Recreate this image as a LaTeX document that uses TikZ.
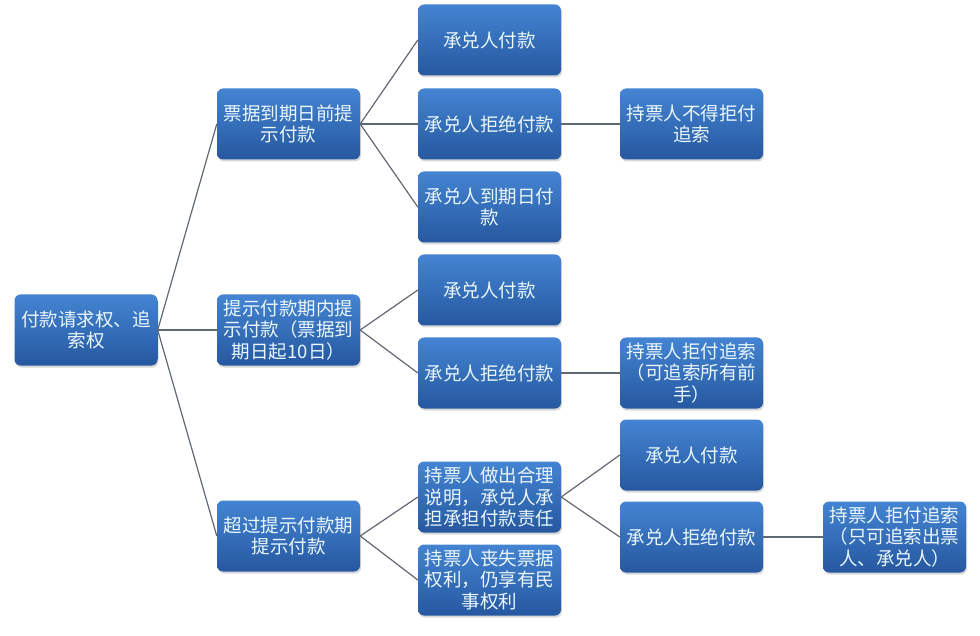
\documentclass[tikz,border=0pt]{standalone}
\usepackage{fontspec}
\setmainfont{Noto Sans CJK SC}
\usepackage{tikz}
\usetikzlibrary{shadows}
\definecolor{boxtop}{RGB}{68,132,210}
\definecolor{boxbot}{RGB}{38,88,160}
\definecolor{linkgray}{RGB}{96,104,116}

\begin{document}
\begin{tikzpicture}[
    x=1pt, y=-1pt,
    box/.style={rounded corners=6pt, align=center, minimum width=143pt, minimum height=71pt,
                inner sep=2pt, text=white!92!cyan, top color=boxtop, bottom color=boxbot,
                font=\fontsize{18.5}{21.5}\selectfont,
                drop shadow={opacity=0.3, shadow xshift=1pt, shadow yshift=-2pt}},
    link/.style={draw=linkgray, line width=1.2pt}
]
\useasboundingbox (0,0) rectangle (980,636);

% root and first level
\node[box] (root) at (86,330)  {付款请求权、追\\索权};
\node[box] (pre)  at (288.5,124) {票据到期日前提\\示付款};
\node[box] (due)  at (288.5,330) {提示付款期内提\\示付款（票据到\\期日起10日）};
\node[box] (late) at (288.5,536) {超过提示付款期\\提示付款};

% second level
\node[box] (prePay)    at (489.5,40)  {承兑人付款};
\node[box] (preRefuse) at (489.5,124) {承兑人拒绝付款};
\node[box] (preWait)   at (489.5,207) {承兑人到期日付\\款};
\node[box] (duePay)    at (489.5,290) {承兑人付款};
\node[box] (dueRefuse) at (489.5,373) {承兑人拒绝付款};
\node[box] (lateOk)    at (489.5,497) {持票人做出合理\\说明，承兑人承\\担承担付款责任};
\node[box] (lateLost)  at (489.5,580) {持票人丧失票据\\权利，仍享有民\\事权利};

% third and fourth level
\node[box] (preNo)      at (691.5,124) {持票人不得拒付\\追索};
\node[box] (dueAll)     at (691.5,373) {持票人拒付追索\\（可追索所有前\\手）};
\node[box] (latePay)    at (691.5,455) {承兑人付款};
\node[box] (lateRefuse) at (691.5,537) {承兑人拒绝付款};
\node[box] (lateSome)   at (894.5,537) {持票人拒付追索\\（只可追索出票\\人、承兑人）};

\foreach \a/\b in {root/pre, root/due, root/late,
                   pre/prePay, pre/preRefuse, pre/preWait,
                   due/duePay, due/dueRefuse,
                   late/lateOk, late/lateLost,
                   preRefuse/preNo, dueRefuse/dueAll,
                   lateOk/latePay, lateOk/lateRefuse,
                   lateRefuse/lateSome}
  \draw[link] (\a.east) -- (\b.west);
\end{tikzpicture}
\end{document}
